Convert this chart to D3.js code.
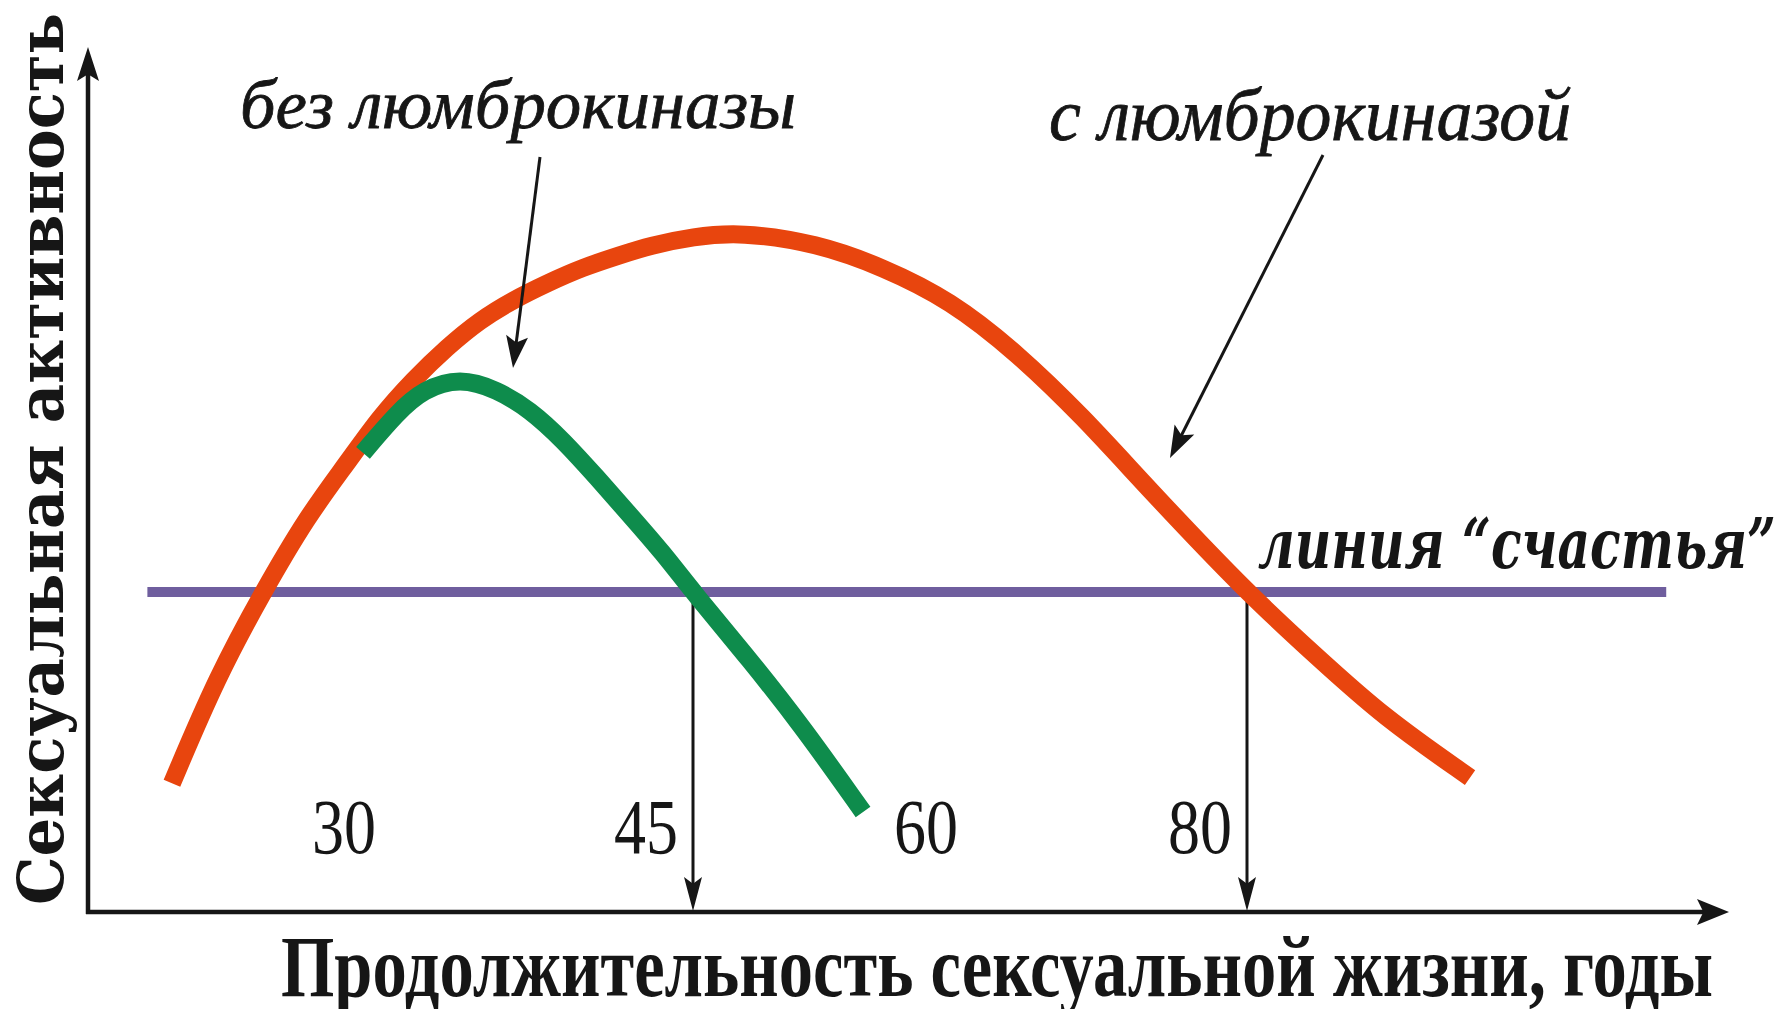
<!DOCTYPE html>
<html><head><meta charset="utf-8">
<script src="https://cdn.jsdelivr.net/npm/d3@7"></script>
<style>body{margin:0;background:#fff}svg{display:block}</style>
</head><body><svg id="chart" width="1787" height="1009"></svg>
<script>
// ---- data ----
const tickValues = [30, 45, 60, 80];
const tickLabels = ["30", "45", "60", "80"];
const withAge = [19.12, 21.36, 23.64, 25.83, 27.81, 29.45, 31.09, 32.78, 34.42, 36.06, 37.75, 39.54, 41.37, 42.86, 45.0, 47.52, 51.64, 55.18, 58.77, 63.21, 68.03, 72.70, 80.0, 85.11, 89.93, 96.28];
const withActivity = [1.61, 2.94, 4.0, 4.94, 5.61, 6.19, 6.65, 7.06, 7.40, 7.65, 7.86, 8.06, 8.21, 8.33, 8.44, 8.50, 8.36, 8.06, 7.65, 6.99, 6.19, 5.31, 3.99, 3.19, 2.44, 1.68];
const withoutAge = [28.61, 30.30, 31.59, 33.43, 35.26, 36.90, 38.54, 40.23, 41.87, 43.51, 45.0, 48.05, 50.89, 54.11];
const withoutActivity = [5.74, 6.24, 6.53, 6.68, 6.53, 6.28, 5.90, 5.43, 4.96, 4.49, 4.0, 3.15, 2.31, 1.25];
const happinessLevel = 4.0;
const happinessSpan = [17.9, 110.6];
const crossingAges = [45, 80];
const seriesNames = ["без люмброкиназы", "с люмброкиназой"];
const happinessName = "линия “счастья”";
const xTitle = "Продолжительность сексуальной жизни, годы";
const yTitle = "Сексуальная активность";

// ---- layout ----
const svg = d3.select("#chart");
const x = d3.scaleLinear().domain(tickValues).range([391, 693, 973, 1247]);
const y = d3.scaleLinear().domain([0, 10]).range([912, 112]);
const axisX0 = 88, axisY0 = y(0);
const ink = "#161616";
const colRed = "#E8450E", colGreen = "#0E8C4C", colPurple = "#6F5E9E";

function arrowHead(g, tipX, tipY, fromX, fromY, len, wid, fill) {
  const a = Math.atan2(tipY - fromY, tipX - fromX);
  const ux = Math.cos(a), uy = Math.sin(a), px = -uy, py = ux;
  const bx = tipX - ux * len, by = tipY - uy * len;
  const nx = tipX - ux * len * 0.8, ny = tipY - uy * len * 0.8;
  const pts = [[tipX, tipY], [bx + px * wid / 2, by + py * wid / 2], [nx, ny], [bx - px * wid / 2, by - py * wid / 2]];
  g.append("path").attr("d", d3.line()(pts) + "Z").attr("fill", fill);
}
function arrow(g, x1, y1, x2, y2, sw, len, wid) {
  const a = Math.atan2(y2 - y1, x2 - x1);
  g.append("line").attr("x1", x1).attr("y1", y1)
    .attr("x2", x2 - Math.cos(a) * len * 0.7).attr("y2", y2 - Math.sin(a) * len * 0.7)
    .attr("stroke", ink).attr("stroke-width", sw);
  arrowHead(g, x2, y2, x1, y1, len, wid, ink);
}

const g = svg.append("g");

// happiness line
g.append("line")
  .attr("x1", x(happinessSpan[0])).attr("x2", x(happinessSpan[1]))
  .attr("y1", y(happinessLevel)).attr("y2", y(happinessLevel))
  .attr("stroke", colPurple).attr("stroke-width", 10);

// drop arrows at crossing ages
crossingAges.forEach(a => arrow(g, x(a), y(happinessLevel) + 5, x(a), axisY0 - 1, 3, 34, 18));

// curves
const line = d3.line().x(d => x(d[0])).y(d => y(d[1])).curve(d3.curveBasis);
g.append("path").datum(d3.zip(withAge, withActivity)).attr("d", line)
  .attr("fill", "none").attr("stroke", colRed).attr("stroke-width", 18).attr("stroke-linecap", "butt");
g.append("path").datum(d3.zip(withoutAge, withoutActivity)).attr("d", line)
  .attr("fill", "none").attr("stroke", colGreen).attr("stroke-width", 18).attr("stroke-linecap", "butt");

// axes
g.append("line").attr("x1", axisX0).attr("y1", axisY0 + 2).attr("x2", axisX0).attr("y2", 70)
  .attr("stroke", ink).attr("stroke-width", 4.5);
arrowHead(g, axisX0, 47, axisX0, axisY0, 34, 22, ink);
g.append("line").attr("x1", axisX0 - 2).attr("y1", axisY0).attr("x2", 1705).attr("y2", axisY0)
  .attr("stroke", ink).attr("stroke-width", 4.5);
arrowHead(g, 1729, axisY0, axisX0, axisY0, 32, 26, ink);

// tick labels
g.selectAll("text.tick").data(tickValues).join("text")
  .attr("class", "tick")
  .attr("x", d => x(d) - 15).attr("y", 853)
  .attr("text-anchor", "end")
  .attr("font-family", "'Liberation Serif', 'Times New Roman', serif")
  .attr("font-size", 78).attr("fill", ink)
  .attr("textLength", 64).attr("lengthAdjust", "spacingAndGlyphs")
  .text((d, i) => tickLabels[i]);

// axis titles
g.append("text").attr("x", 1713).attr("y", 996).attr("text-anchor", "end")
  .attr("font-family", "'Liberation Serif', 'Times New Roman', serif")
  .attr("font-weight", "bold").attr("font-size", 86).attr("fill", ink)
  .attr("textLength", 1432).attr("lengthAdjust", "spacingAndGlyphs")
  .text(xTitle);
g.append("text").attr("transform", "translate(63,459) rotate(-90)").attr("text-anchor", "middle")
  .attr("font-family", "'DejaVu Serif', serif")
  .attr("font-weight", "bold").attr("font-size", 63).attr("fill", ink)
  .attr("textLength", 892).attr("lengthAdjust", "spacingAndGlyphs")
  .text(yTitle);

// annotations
g.append("text").attr("x", 240).attr("y", 128)
  .attr("font-family", "'Liberation Serif', 'Times New Roman', serif")
  .attr("font-style", "italic").attr("font-size", 70).attr("fill", ink)
  .attr("stroke", ink).attr("stroke-width", 0.8)
  .attr("textLength", 556).attr("lengthAdjust", "spacingAndGlyphs")
  .text(seriesNames[0]);
g.append("text").attr("x", 1049).attr("y", 140)
  .attr("font-family", "'Liberation Serif', 'Times New Roman', serif")
  .attr("font-style", "italic").attr("font-size", 73).attr("fill", ink)
  .attr("stroke", ink).attr("stroke-width", 0.8)
  .attr("textLength", 522).attr("lengthAdjust", "spacingAndGlyphs")
  .text(seriesNames[1]);
g.append("text").attr("x", 1258).attr("y", 568)
  .attr("font-family", "'DejaVu Serif', serif")
  .attr("font-style", "italic").attr("font-weight", "bold").attr("font-size", 70).attr("fill", ink)
  .attr("textLength", 518).attr("lengthAdjust", "spacingAndGlyphs")
  .text(happinessName);

arrow(g, 540, 157, 513, 368, 3, 32, 22);
arrow(g, 1323, 155, 1170, 458, 3, 32, 22);
</script></body></html>
